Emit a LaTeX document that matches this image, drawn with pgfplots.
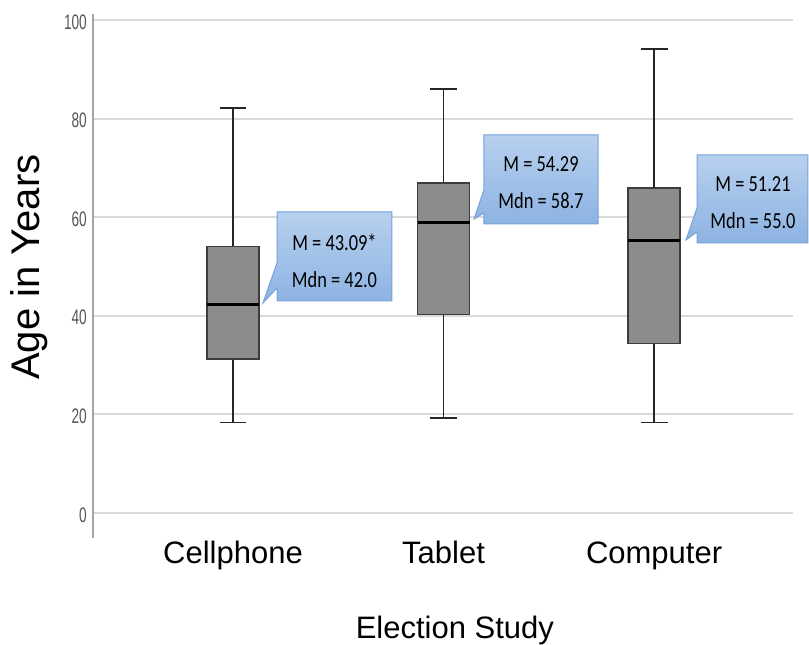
\documentclass[border=0pt]{standalone}
\usepackage{pgfplots}
\pgfplotsset{compat=1.18}
\usepackage{fontspec}
\setmainfont{Liberation Sans}
\newfontfamily\calloutfont[FakeStretch=0.8]{Carlito}
\newfontfamily\tickfont[FakeStretch=0.65]{Liberation Sans}
\definecolor{gridgray}{HTML}{D9D9D9}
\definecolor{axisgray}{HTML}{A6A6A6}
\definecolor{tickgray}{HTML}{555555}
\definecolor{boxfill}{HTML}{8C8C8C}
\definecolor{boxedge}{HTML}{3C3C3C}
\definecolor{calltop}{HTML}{B7D0EE}
\definecolor{callbot}{HTML}{8DB3E2}
\definecolor{calledge}{HTML}{74A3DA}
\begin{document}
\begin{tikzpicture}
\begin{axis}[
  name=main,
  scale only axis, width=700pt, height=524pt,
  xmin=0.335, xmax=3.66, ymin=-5.1, ymax=101.2,
  clip=false,
  axis y line*=left, axis x line*=bottom,
  x axis line style={draw=none},
  y axis line style={draw=axisgray, line width=1.5pt},
  tick style={draw=none},
  xtick={1,2,3}, xticklabels={Cellphone,Tablet,Computer},
  ytick={0,20,40,60,80,100},
  ymajorgrids, grid style={gridgray, line width=2pt},
  /pgf/number format/assume math mode=true,
  yticklabel style={font=\tickfont\fontsize{21}{21}\selectfont, text=tickgray, anchor=east, inner sep=0pt, xshift=-6pt, yshift=-2pt},
  xticklabel style={font=\fontsize{31}{31}\selectfont, anchor=base, inner sep=0pt, yshift=-25pt},
  xlabel={Election Study},
  ylabel={Age in Years},
  xlabel style={font=\fontsize{31}{31}\selectfont, at={(axis description cs:0.517,-0.191)}, anchor=base, inner sep=0pt},
  ylabel style={font=\fontsize{40}{40}\selectfont, at={(axis description cs:-0.076,0.517)}, anchor=base, inner sep=0pt},
]
% whiskers (vertical lines)
\addplot[draw=black!85, line width=1.6pt] coordinates {(1,54.0) (1,82.1)};
\addplot[draw=black!85, line width=1.6pt] coordinates {(1,31.2) (1,18.3)};
\addplot[draw=black!85, line width=1.6pt] coordinates {(2,66.9) (2,86.0)};
\addplot[draw=black!85, line width=1.6pt] coordinates {(2,40.2) (2,19.3)};
\addplot[draw=black!85, line width=1.6pt] coordinates {(3,65.9) (3,94.1)};
\addplot[draw=black!85, line width=1.6pt] coordinates {(3,34.3) (3,18.3)};
% whisker caps
\addplot[draw=black!85, line width=1.6pt] coordinates {(0.936,82.1) (1.064,82.1)};
\addplot[draw=black!85, line width=1.6pt] coordinates {(0.936,18.3) (1.064,18.3)};
\addplot[draw=black!85, line width=1.6pt] coordinates {(1.936,86.0) (2.064,86.0)};
\addplot[draw=black!85, line width=1.6pt] coordinates {(1.936,19.3) (2.064,19.3)};
\addplot[draw=black!85, line width=1.6pt] coordinates {(2.936,94.1) (3.064,94.1)};
\addplot[draw=black!85, line width=1.6pt] coordinates {(2.936,18.3) (3.064,18.3)};
% boxes (lower quartile to upper quartile)
\addplot[draw=boxedge, fill=boxfill, line width=1.2pt] coordinates {(0.8765,31.2) (1.1235,31.2) (1.1235,54.0) (0.8765,54.0)} -- cycle;
\addplot[draw=boxedge, fill=boxfill, line width=1.2pt] coordinates {(1.8765,40.2) (2.1235,40.2) (2.1235,66.9) (1.8765,66.9)} -- cycle;
\addplot[draw=boxedge, fill=boxfill, line width=1.2pt] coordinates {(2.8765,34.3) (3.1235,34.3) (3.1235,65.9) (2.8765,65.9)} -- cycle;
% medians
\addplot[draw=black, line width=3pt] coordinates {(0.8765,42.2) (1.1235,42.2)};
\addplot[draw=black, line width=3pt] coordinates {(1.8765,59.0) (2.1235,59.0)};
\addplot[draw=black, line width=3pt] coordinates {(2.8765,55.2) (3.1235,55.2)};
% callout outlines (pointer toward the median)
\addplot[draw=calledge, line width=1pt, top color=calltop, bottom color=callbot] coordinates {(1.209,61.05) (1.755,61.05) (1.755,43.0) (1.209,43.0) (1.209,45.6) (1.1425,42.6) (1.209,50.7)} -- cycle;
\addplot[draw=calledge, line width=1pt, top color=calltop, bottom color=callbot] coordinates {(2.192,76.67) (2.734,76.67) (2.734,58.62) (2.192,58.62) (2.192,60.85) (2.145,59.63) (2.192,65.52)} -- cycle;
\addplot[draw=calledge, line width=1pt, top color=calltop, bottom color=callbot] coordinates {(3.204,72.62) (3.731,72.62) (3.731,54.77) (3.204,54.77) (3.204,57.0) (3.152,55.38) (3.204,61.87)} -- cycle;
\node[font=\calloutfont\fontsize{23}{37}\selectfont, align=center, inner sep=0pt] at (axis cs:1.482,51.1) {M = 43.09*\\Mdn = 42.0};
\node[font=\calloutfont\fontsize{23}{37}\selectfont, align=center, inner sep=0pt] at (axis cs:2.463,67.04) {M = 54.29\\Mdn = 58.7};
\node[font=\calloutfont\fontsize{23}{37}\selectfont, align=center, inner sep=0pt] at (axis cs:3.470,62.98) {M = 51.21\\Mdn = 55.0};
\end{axis}
\path[use as bounding box] ([xshift=-93pt,yshift=-104pt]main.south west) rectangle ++(809pt,642pt);
\end{tikzpicture}
\end{document}
